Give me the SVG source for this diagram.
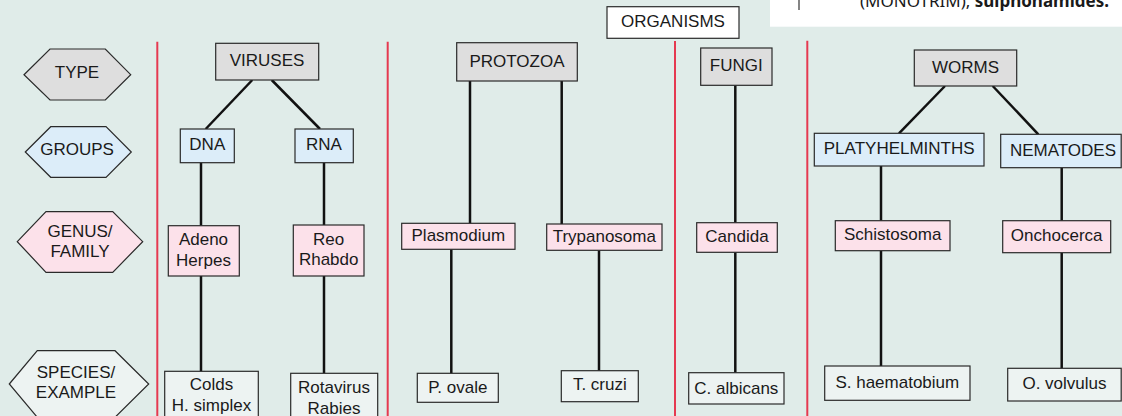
<svg xmlns="http://www.w3.org/2000/svg" width="1122" height="416" viewBox="0 0 1122 416">
<style>
text{font-family:"Liberation Sans",Arial,Helvetica,sans-serif;font-size:17px;fill:#1a1a1a;text-anchor:middle}
.box{stroke:#2a2a2a;stroke-width:1.2}
.gray{fill:#dedede}
.blue{fill:#dcedf9}
.pink{fill:#fce1ea}
.spec{fill:#edf3f2}
.white{fill:#ffffff}
.conn line{stroke:#111;stroke-width:2.5}
.div line{stroke:#e53950;stroke-width:2}
</style>
<rect x="0" y="0" width="1122" height="416" fill="#e0ece9"/>
<g id="page-fragment">
<rect x="770" y="0" width="352" height="26.7" fill="#ffffff"/>
<line x1="799" y1="0" x2="799" y2="10" stroke="#333" stroke-width="1.2"/>
<text x="860" y="7" style="text-anchor:start;font-family:'Noto Sans','Open Sans',sans-serif;font-size:17px">(MONOTRIM), <tspan font-weight="bold">sulphonamides.</tspan></text>
</g>
<g class="div" id="dividers">
<line x1="157.3" y1="41.7" x2="157.3" y2="416"/>
<line x1="387.7" y1="41.7" x2="387.7" y2="416"/>
<line x1="675" y1="41" x2="675" y2="416"/>
<line x1="807.3" y1="40.7" x2="807.3" y2="416"/>
</g>
<g class="conn" id="connectors">
<line x1="252.3" y1="80" x2="205.7" y2="129"/>
<line x1="271.7" y1="80" x2="320" y2="129"/>
<line x1="201" y1="162.7" x2="201" y2="225.7"/>
<line x1="324" y1="162.7" x2="324" y2="225"/>
<line x1="201" y1="276" x2="201" y2="371.3"/>
<line x1="324" y1="276" x2="324" y2="373.3"/>
<line x1="470" y1="81" x2="470" y2="223.3"/>
<line x1="561.7" y1="81" x2="561.7" y2="224"/>
<line x1="451.3" y1="249.3" x2="451.3" y2="373.3"/>
<line x1="599" y1="250.3" x2="599" y2="370.7"/>
<line x1="735.3" y1="85.3" x2="735.3" y2="222.7"/>
<line x1="735.3" y1="252.3" x2="735.3" y2="372.7"/>
<line x1="945" y1="86" x2="899" y2="133.3"/>
<line x1="992.7" y1="86" x2="1038.3" y2="134.3"/>
<line x1="881" y1="166" x2="881" y2="220.7"/>
<line x1="1061.7" y1="167.7" x2="1061.7" y2="220.7"/>
<line x1="881" y1="250.7" x2="881" y2="366"/>
<line x1="1061.7" y1="252.7" x2="1061.7" y2="368.3"/>
</g>
<g id="legend-type"><polygon class="box gray" points="24,74.7 50,49 105.3,49 130.7,74.7 105.3,100 50,100"/><text x="77" y="77.7">TYPE</text></g>
<g id="legend-groups"><polygon class="box blue" points="25.3,152 50.7,126.7 106,126.7 131.3,152 106,177.3 50.7,177.3"/><text x="77" y="155">GROUPS</text></g>
<g id="legend-genus"><polygon class="box pink" points="17.3,241.7 46,211.7 112.7,211.7 142.7,241.7 112.7,272.3 46,272.3"/><text x="80" y="236.7">GENUS/</text><text x="80" y="257">FAMILY</text></g>
<g id="legend-species"><polygon class="box spec" points="9.3,384 37.3,350.7 115,350.7 148.7,384 115,417.3 37.3,417.3"/><text x="76" y="378.3">SPECIES/</text><text x="76" y="397.7">EXAMPLE</text></g>
<g id="organisms"><rect class="box white" x="607" y="6.7" width="132" height="31.6"/><text x="673" y="27">ORGANISMS</text></g>
<g id="viruses"><rect class="box gray" x="215.7" y="43.3" width="103" height="36.7"/><text x="267" y="66">VIRUSES</text></g>
<g id="dna"><rect class="box blue" x="180.3" y="129" width="54" height="33.7"/><text x="207.3" y="150">DNA</text></g>
<g id="rna"><rect class="box blue" x="295" y="129" width="58.3" height="33.7"/><text x="324" y="150">RNA</text></g>
<g id="adeno"><rect class="box pink" x="168.3" y="225.7" width="71" height="50.3"/><text x="203.5" y="245">Adeno</text><text x="203.5" y="265.5">Herpes</text></g>
<g id="reo"><rect class="box pink" x="293.3" y="225" width="70.7" height="51"/><text x="328.7" y="244.5">Reo</text><text x="328.7" y="265">Rhabdo</text></g>
<g id="colds"><rect class="box spec" x="164.7" y="371.3" width="93.6" height="50"/><text x="211.5" y="390">Colds</text><text x="211.5" y="411">H. simplex</text></g>
<g id="rotavirus"><rect class="box spec" x="290.7" y="373.3" width="87" height="50"/><text x="334" y="393">Rotavirus</text><text x="334" y="413.5">Rabies</text></g>
<g id="protozoa"><rect class="box gray" x="456.7" y="42.7" width="120.6" height="38.3"/><text x="517" y="67">PROTOZOA</text></g>
<g id="plasmodium"><rect class="box pink" x="401.7" y="223.3" width="113.3" height="26"/><text x="458.3" y="241">Plasmodium</text></g>
<g id="trypanosoma"><rect class="box pink" x="546.7" y="224" width="115.3" height="26.3"/><text x="604.3" y="241.7">Trypanosoma</text></g>
<g id="povale"><rect class="box spec" x="417.3" y="373.3" width="81" height="29"/><text x="457.8" y="392.7">P. ovale</text></g>
<g id="tcruzi"><rect class="box spec" x="561.3" y="370.7" width="77" height="31"/><text x="599.8" y="390">T. cruzi</text></g>
<g id="fungi"><rect class="box gray" x="700.7" y="48" width="71.3" height="37.3"/><text x="736.3" y="71.3">FUNGI</text></g>
<g id="candida"><rect class="box pink" x="696.7" y="222.7" width="80.6" height="29.6"/><text x="737" y="241.7">Candida</text></g>
<g id="calbicans"><rect class="box spec" x="688.7" y="372.7" width="95.3" height="31.3"/><text x="736.3" y="393.7">C. albicans</text></g>
<g id="worms"><rect class="box gray" x="914.3" y="50" width="102.4" height="36"/><text x="965.5" y="73.3">WORMS</text></g>
<g id="platyhelminths"><rect class="box blue" x="814.3" y="133.3" width="169.7" height="32.7"/><text x="899.2" y="153.7">PLATYHELMINTHS</text></g>
<g id="nematodes"><rect class="box blue" x="1000.7" y="134.3" width="120.5" height="33.4"/><text x="1063" y="156">NEMATODES</text></g>
<g id="schistosoma"><rect class="box pink" x="835.3" y="220.7" width="114.7" height="30"/><text x="892.7" y="240">Schistosoma</text></g>
<g id="onchocerca"><rect class="box pink" x="1002.7" y="220.7" width="108" height="32"/><text x="1056.7" y="241">Onchocerca</text></g>
<g id="shaematobium"><rect class="box spec" x="824.7" y="366" width="145.3" height="34.3"/><text x="897.3" y="388.3">S. haematobium</text></g>
<g id="ovolvulus"><rect class="box spec" x="1007.7" y="368.3" width="113.5" height="32.7"/><text x="1064.5" y="389.3">O. volvulus</text></g>
</svg>
